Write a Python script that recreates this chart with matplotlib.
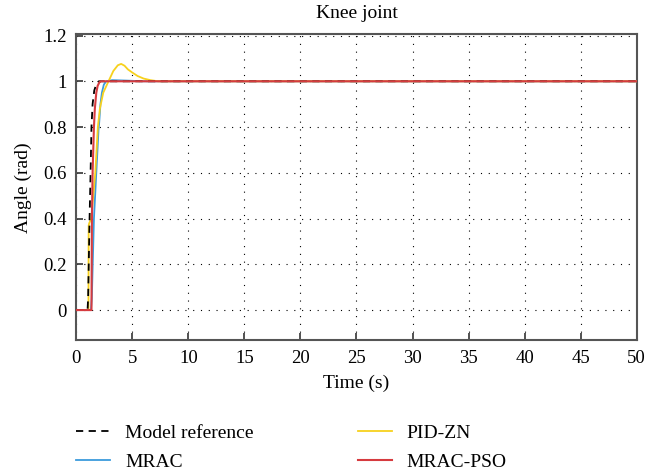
import numpy as np
import matplotlib
matplotlib.use('Agg')
import matplotlib.pyplot as plt

plt.rcParams['font.family'] = ['Liberation Serif', 'DejaVu Serif']

# 读图得到的数据 (时间 s, 角度 rad)
t_ref = [0, 1.0, 1.05, 1.18, 1.27, 1.35, 1.45, 1.6, 1.8, 2.0, 2.2, 50]
y_ref = [0, 0, 0.05, 0.40, 0.60, 0.80, 0.90, 0.96, 0.99, 1.0, 1.0, 1.0]

t_mrac = [0, 1.3, 1.38, 1.57, 1.78, 1.98, 2.04, 2.15, 2.28, 2.45, 2.66, 3.2, 4.5, 6.0, 50]
y_mrac = [0, 0, 0.05, 0.40, 0.60, 0.79, 0.82, 0.90, 0.95, 0.985, 1.0, 1.005, 1.003, 1.0, 1.0]

t_pid = [0, 1.08, 1.1, 1.15, 1.33, 1.69, 1.92, 2.1, 2.4, 2.87, 3.3, 3.7, 4.0, 4.3, 4.6, 5.0, 5.47, 6.0, 6.6, 7.3, 50]
y_pid = [0, 0, 0.37, 0.38, 0.40, 0.60, 0.80, 0.88, 0.95, 1.0, 1.045, 1.07, 1.076, 1.068, 1.052, 1.038, 1.023, 1.012, 1.005, 1.0, 1.0]

t_pso = [0, 1.35, 1.39, 1.45, 1.57, 1.65, 1.78, 1.9, 2.05, 2.2, 50]
y_pso = [0, 0, 0.40, 0.60, 0.80, 0.88, 0.95, 0.98, 0.995, 1.0, 1.0]

x_ticks = np.arange(0, 51, 5)
y_ticks = [0, 0.2, 0.4, 0.6, 0.8, 1, 1.2]
y_tick_labels = ['0', '0.2', '0.4', '0.6', '0.8', '1', '1.2']

fig = plt.figure(figsize=(6.47, 4.71), dpi=100)
ax = fig.add_axes([0.118, 0.278, 0.866, 0.649])

ax.plot(t_ref, y_ref, color='black', ls=(0, (4, 3)), lw=1.3, label='Model reference', zorder=5)
ax.plot(t_mrac, y_mrac, color='#3C9BDC', lw=1.3, label='MRAC', zorder=3)
ax.plot(t_pid, y_pid, color='#F7D11E', lw=1.3, label='PID-ZN', zorder=4)
ax.plot(t_pso, y_pso, color='#D63B3F', lw=1.5, label='MRAC-PSO', zorder=6)

ax.set_xlim(0, 50)
ax.set_ylim(-0.131, 1.205)
ax.set_xticks(x_ticks)
ax.set_yticks(y_ticks)
ax.set_yticklabels(y_tick_labels)
ax.tick_params(direction='in', length=5, width=1.2, color='#333333', labelsize=13.5, pad=7)
ax.grid(True, color='black', linestyle=(0, (1, 6)), lw=0.8)
for s in ax.spines.values():
    s.set_color('#555555')
    s.set_linewidth(1.5)

ax.set_title('Knee joint', fontsize=14, pad=12)
ax.set_xlabel('Time (s)', fontsize=14, labelpad=6)
ax.set_ylabel('Angle (rad)', fontsize=14, labelpad=8)

fig.legend(loc='upper left', bbox_to_anchor=(76 / 647, 0.0995), ncol=2, frameon=False,
           fontsize=14, handlelength=1.75, columnspacing=5.36, labelspacing=0.6,
           handletextpad=0.77, borderpad=0, borderaxespad=0)

fig.savefig('out.png', dpi=100)
